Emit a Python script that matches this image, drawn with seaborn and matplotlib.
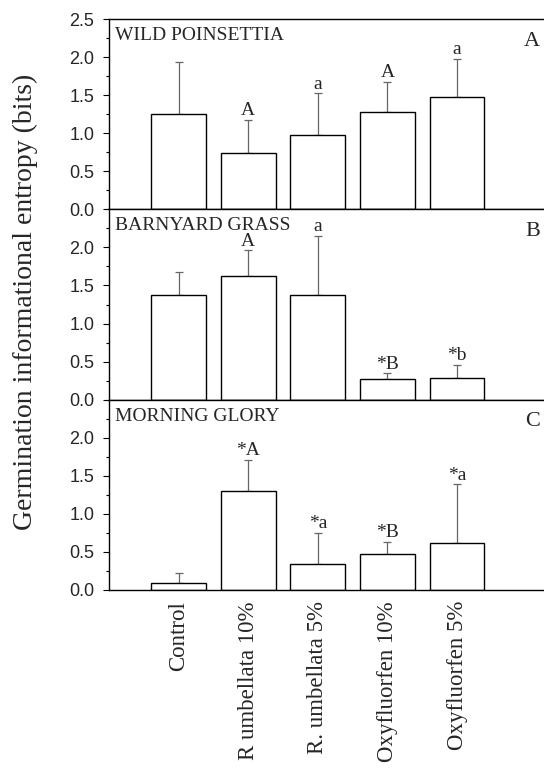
import numpy as np
import pandas as pd
import matplotlib
matplotlib.use("Agg")
import matplotlib.pyplot as plt
from matplotlib.ticker import MultipleLocator
import seaborn as sns

# --- data ---
treatments = ['Control', 'R umbellata 10%', 'R. umbellata 5%', 'Oxyfluorfen 10%', 'Oxyfluorfen 5%']

poinsettia_mean = [1.25, 0.74, 0.97, 1.28, 1.48]
poinsettia_err = [0.69, 0.43, 0.55, 0.39, 0.50]
poinsettia_lbl = ['', 'A', 'a', 'A', 'a']

barnyard_mean = [1.38, 1.62, 1.38, 0.28, 0.285]
barnyard_err = [0.30, 0.34, 0.77, 0.07, 0.175]
barnyard_lbl = ['', 'A', 'a', '*B', '*b']

glory_mean = [0.096, 1.30, 0.34, 0.48, 0.62]
glory_err = [0.134, 0.41, 0.41, 0.15, 0.77]
glory_lbl = ['', '*A', '*a', '*B', '*a']

panels = [
    ('WILD POINSETTIA', 'A', poinsettia_mean, poinsettia_err, poinsettia_lbl),
    ('BARNYARD GRASS', 'B', barnyard_mean, barnyard_err, barnyard_lbl),
    ('MORNING GLORY', 'C', glory_mean, glory_err, glory_lbl),
]

sns.set_theme(style="ticks")
plt.rcParams['font.family'] = ['Liberation Serif', 'DejaVu Serif']
plt.rcParams['axes.edgecolor'] = 'black'
plt.rcParams['axes.linewidth'] = 1.0

fig = plt.figure(figsize=(5.44, 7.68), dpi=100)

W, H = 544, 768
left = 109 / W
edges = [19, 209, 400, 590]  # panel top/bottom rows in pixels

for k, (name, letter, means, errs, lbls) in enumerate(panels):
    top_px, bot_px = edges[k], edges[k + 1]
    ax = fig.add_axes([left, 1 - bot_px / H, 1 - left, (bot_px - top_px) / H])

    df = pd.DataFrame({'treatment': treatments, 'entropy': means})
    sns.barplot(data=df, x='treatment', y='entropy', color='white', saturation=1,
                edgecolor='black', linewidth=1.0, width=0.79, ax=ax, zorder=2)
    pos = np.arange(len(treatments))
    # upper error bars only
    ax.errorbar(pos, means, yerr=[np.zeros(len(means)), errs], fmt='none',
                ecolor='#666666', elinewidth=0.9, capsize=3, capthick=0.9, zorder=1)

    for i, lbl in enumerate(lbls):
        if lbl:
            ax.annotate(lbl, xy=(pos[i], means[i] + errs[i]), xytext=(0, 0.5),
                        textcoords='offset points', ha='center', va='bottom', fontsize=14)

    ax.annotate(name, xy=(0, 1), xycoords='axes fraction', xytext=(4, -6),
                textcoords='offset points', ha='left', va='top', fontsize=14)
    ax.annotate(letter, xy=(1, 1), xycoords='axes fraction', xytext=(-3, -9),
                textcoords='offset points', ha='right', va='top', fontsize=16)

    ax.set_xlim(-1, 5.25)
    ax.set_ylim(0, 2.5)
    if k == 0:
        ax.set_yticks([0, 0.5, 1.0, 1.5, 2.0, 2.5])
    else:
        ax.set_yticks([0, 0.5, 1.0, 1.5, 2.0])
    ax.yaxis.set_minor_locator(MultipleLocator(0.25))
    ax.yaxis.set_major_formatter(plt.FormatStrFormatter('%.1f'))
    ax.tick_params(axis='y', which='major', direction='out', length=4.5, width=0.8,
                   pad=6, labelsize=13, labelfontfamily='Liberation Sans', color='black')
    ax.tick_params(axis='y', which='minor', direction='out', length=2.5, width=0.8, color='black')
    ax.tick_params(axis='x', length=0)
    ax.spines['right'].set_visible(False)
    ax.set_xlabel('')
    ax.set_ylabel('')
    if k < 2:
        ax.set_xticklabels([])
    else:
        ax.set_xticks(pos)
        ax.set_xticklabels(treatments, rotation=90, fontsize=16.5, va='top')
        ax.tick_params(axis='x', pad=8)

fig.text(25 / W, 1 - 302 / H, 'Germination informational entropy (bits)',
         rotation=90, ha='center', va='center', fontsize=20)

fig.savefig('out.png', dpi=100)
